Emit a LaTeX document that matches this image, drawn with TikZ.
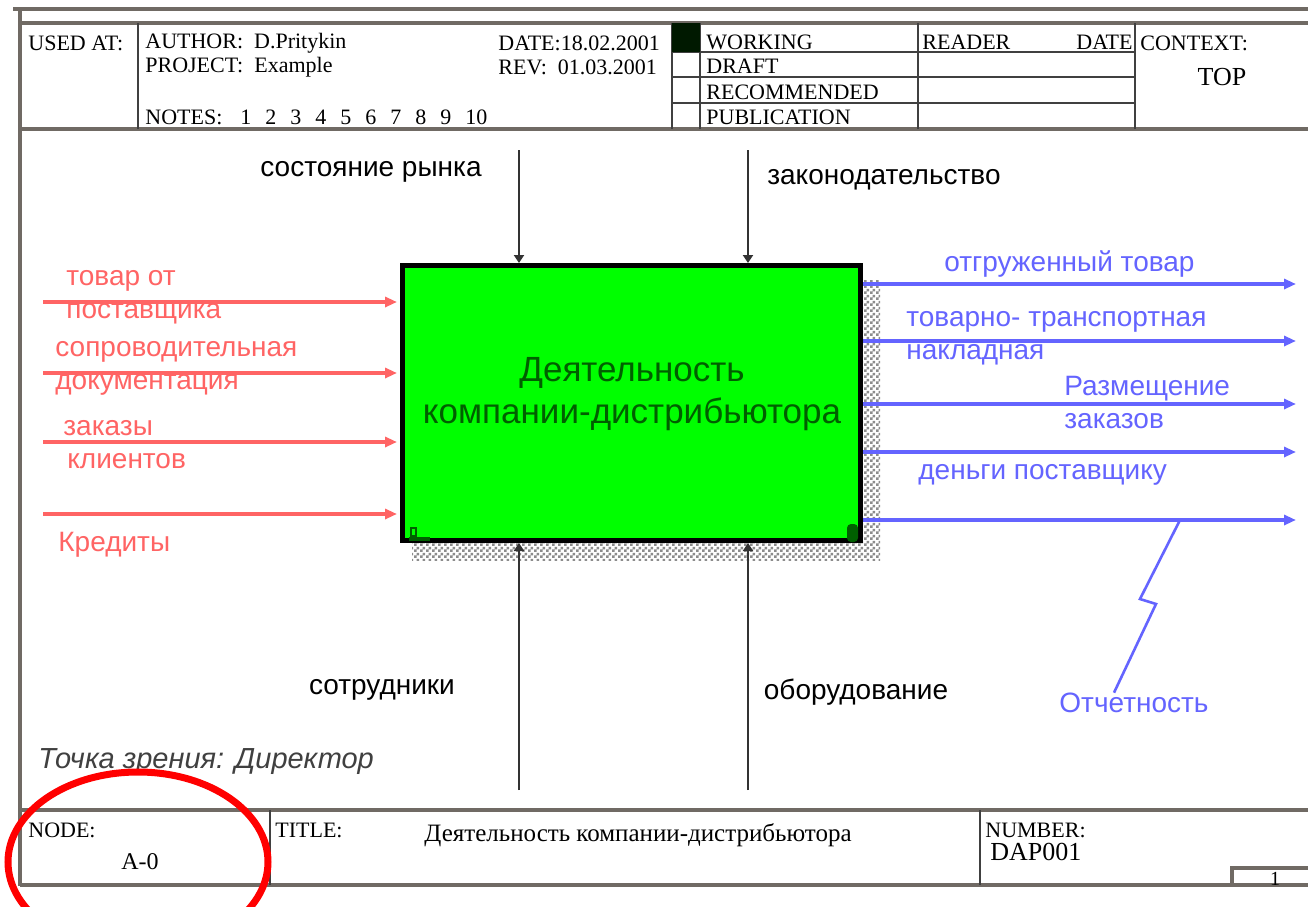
\documentclass[tikz,border=0pt]{standalone}
\usepackage{fontspec}
\setmainfont{Liberation Serif}
\setsansfont{Liberation Sans}
\usetikzlibrary{positioning, arrows.meta, patterns, calc}

\definecolor{inred}{RGB}{255,100,100}
\definecolor{outblue}{RGB}{100,100,255}
\definecolor{framegray}{RGB}{112,106,100}
\definecolor{actgreen}{RGB}{0,255,0}
\definecolor{darkgreen}{RGB}{0,95,0}

\pgfdeclarepatternformonly{finechecker}{\pgfpointorigin}{\pgfqpoint{3pt}{3pt}}{\pgfqpoint{3pt}{3pt}}{
  \pgfpathrectangle{\pgfpointorigin}{\pgfqpoint{1.5pt}{1.5pt}}
  \pgfpathrectangle{\pgfqpoint{1.5pt}{1.5pt}}{\pgfqpoint{1.5pt}{1.5pt}}
  \pgfusepath{fill}}

\begin{document}
\begin{tikzpicture}[x=0.5pt, y=-0.5pt, >={Triangle[length=6pt, width=5pt]},
    frame/.style={framegray, line width=2pt},
    rule/.style={black!75, line width=0.8pt},
    hdr/.style={anchor=west, inner sep=0pt, font=\fontsize{11}{13}\selectfont},
    lbl/.style={anchor=west, inner sep=0pt, align=left, font=\sffamily\fontsize{14}{16.5}\selectfont},
    inarrow/.style={->, inred, line width=1.6pt, shorten >=1.5pt},
    outarrow/.style={->, outblue, line width=1.6pt},
    ctlarrow/.style={->, >={Triangle[length=4pt, width=5pt]}, black!80, line width=1.2pt},
    activity/.style={draw=black, line width=2.5pt, fill=actgreen, minimum width=229pt,
                     minimum height=137.5pt, inner sep=0pt}]

  \useasboundingbox (0,0) rectangle (1308,906);
  \fill[white] (0,0) rectangle (1308,906);

  % Frame
  \draw[frame] (13,9) -- (1308,9);
  \draw[frame] (20,9) -- (20,886);
  \draw[frame] (20,23) -- (1308,23);
  \draw[frame] (20,129) -- (1308,129);
  \draw[frame] (20,810) -- (1308,810);
  \draw[frame] (20,885) -- (1308,885);

  % Header
  \foreach \x in {138,672,700,918,1135}
    \draw[rule] (\x,23) -- (\x,129);
  \foreach \y in {52,77,103}
    \draw[rule] (672,\y) -- (1135,\y);
  \fill[black!90!green] (672,23) rectangle (700,52);
  \node[hdr] (usedat) at (28,43) {USED AT:};
  \node[hdr] (author) at (145,43) {AUTHOR:\ \ D.Pritykin};
  \node[hdr] (project) at (145,67) {PROJECT:\ \ Example};
  \node[hdr] (notes) at (145,117) {NOTES:};
  \foreach \n in {1,...,10}
    \node[hdr] (note\n) at (215+25*\n,117) {\n};
  \node[hdr] (date) at (498,43) {DATE:18.02.2001};
  \node[hdr] (rev) at (498,67) {REV:\ \ 01.03.2001};
  \node[hdr] (working) at (706,42) {WORKING};
  \node[hdr] (draft) at (706,66) {DRAFT};
  \node[hdr] (recommended) at (706,92) {RECOMMENDED};
  \node[hdr] (publication) at (706,117) {PUBLICATION};
  \node[hdr] (reader) at (922,42) {READER};
  \node[hdr, anchor=east] (readerdate) at (1133,42) {DATE};
  \node[hdr] (context) at (1140,43) {CONTEXT:};
  \node[font=\fontsize{13}{15}\selectfont] (top) at (1222,77) {TOP};

  % Activity box with shadow
  \fill[pattern=finechecker, pattern color=gray!90] (412,280) rectangle (880,560);
  \node[activity] (act) at (631.5,403) {};
  \node[align=center, text=darkgreen, font=\sffamily\fontsize{17.5}{21}\selectfont]
    (acttext) at (632,394) {Деятельность\\компании-дистрибьютора};
  \draw[darkgreen, line width=1pt] (411,528) rectangle (416,536);
  \fill[darkgreen] (409,537) rectangle (430,541);
  \fill[darkgreen, rounded corners=2pt] (847,542) rectangle (858,524);

  % Controls
  \coordinate (ctl1) at (519,150);
  \coordinate (ctl2) at (748,150);
  \draw[ctlarrow] (ctl1) -- (ctl1 |- act.north);
  \draw[ctlarrow] (ctl2) -- (ctl2 |- act.north);
  \node[lbl, anchor=center] (market) at (371,172) {состояние рынка};
  \node[lbl, anchor=center] (law) at (884,180) {законодательство};

  % Mechanisms
  \coordinate (mech1) at (519,790);
  \coordinate (mech2) at (748,790);
  \draw[ctlarrow] (mech1) -- (mech1 |- act.south);
  \draw[ctlarrow] (mech2) -- (mech2 |- act.south);
  \node[lbl, anchor=center] (staff) at (382,690) {сотрудники};
  \node[lbl, anchor=center] (equip) at (856,692) {оборудование};

  % Inputs
  \foreach \y [count=\i] in {302,373,442,514} {
    \coordinate (in\i) at (43,\y);
    \draw[inarrow] (in\i) -- (in\i -| act.west);
  }
  \node[lbl, text=inred] (goods) at (66,297) {товар от\\поставщика};
  \node[lbl, text=inred] (docs) at (55,368) {сопроводительная\\документация};
  \node[lbl, text=inred] (orders) at (63,445) {заказы\\\hspace{2pt}клиентов};
  \node[lbl, text=inred] (credits) at (58,545) {Кредиты};

  % Outputs
  \foreach \y [count=\i] in {284,341,404,452,520} {
    \coordinate (out\i) at (1296,\y);
    \draw[outarrow] (out\i -| act.east) -- (out\i);
  }
  \node[lbl, text=outblue] (shipped) at (944,264) {отгруженный товар};
  \node[lbl, text=outblue] (waybill) at (906,338) {товарно- транспортная\\накладная};
  \node[lbl, text=outblue] (placing) at (1064,402) {Размещение\\заказов};
  \node[lbl, text=outblue] (payment) at (918,475) {деньги поставщику};
  \node[lbl, text=outblue, anchor=center] (report) at (1134,703) {Отчетность};
  \coordinate (reptop) at (1180,520);
  \draw[outblue, line width=1.3pt] (reptop) -- (1140,599) -- (1156,604) -- ([xshift=-10pt]report.north);

  % Viewpoint
  \node[lbl, text=black!75, font=\sffamily\itshape\fontsize{14.5}{17}\selectfont] (view) at (38,762) {Точка зрения: Директор};

  % Footer
  \draw[rule] (270,810) -- (270,885);
  \draw[rule] (980,810) -- (980,885);
  \draw[frame] (1232,886) |- (1308,868);
  \node[hdr] (nodelbl) at (28,830) {NODE:};
  \node[font=\fontsize{12}{14}\selectfont] (nodeid) at (140,862) {A-0};
  \node[hdr] (titlelbl) at (275,830) {TITLE:};
  \node[font=\fontsize{12.5}{15}\selectfont] (title) at (638,835) {Деятельность компании-дистрибьютора};
  \node[hdr] (numlbl) at (985,830) {NUMBER:};
  \node[hdr, font=\fontsize{13}{15}\selectfont] (number) at (990,852) {DAP001};
  \node[font=\fontsize{10}{12}\selectfont] (page) at (1275,879) {1};

  % Highlight
  \draw[red, line width=3.5pt] (138,862) ellipse [x radius=65pt, y radius=45pt];
\end{tikzpicture}
\end{document}
